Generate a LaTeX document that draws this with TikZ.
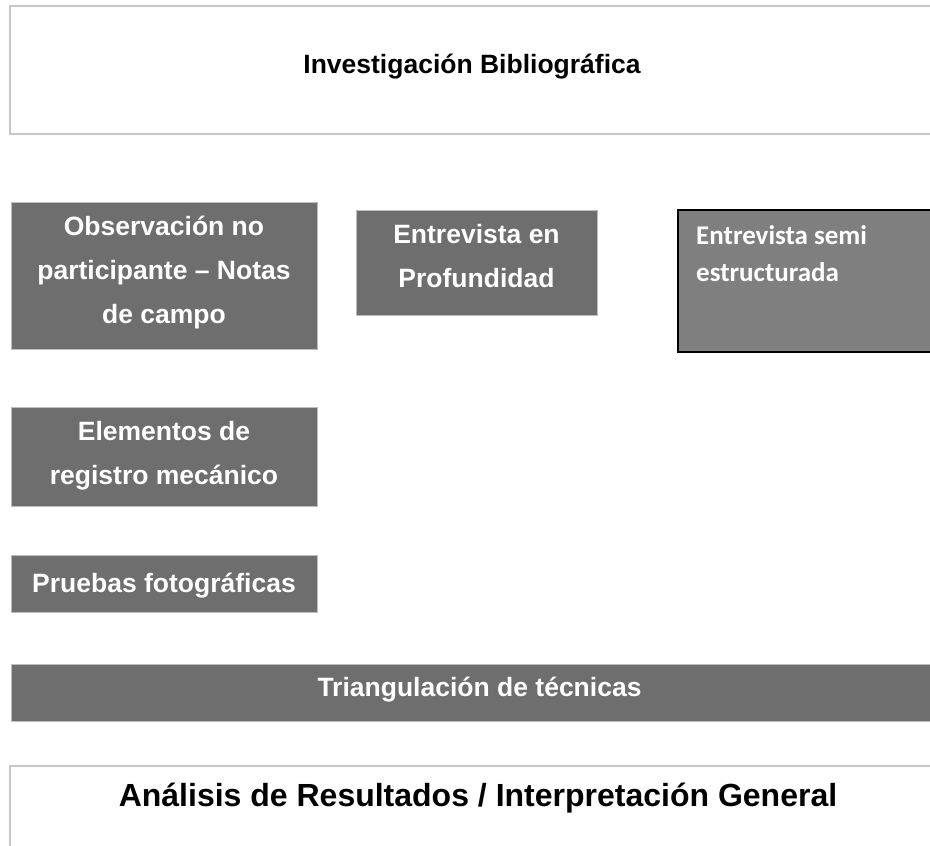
\documentclass[tikz,border=0pt]{standalone}
\usepackage{fontspec}
\setmainfont{Liberation Sans}
\newfontfamily\carlitofont{Carlito}
\definecolor{boxgray}{HTML}{6E6E6E}
\definecolor{semigray}{HTML}{7F7F7F}
\definecolor{boxedge}{HTML}{BDBDBD}
\definecolor{outline}{HTML}{C8C8C8}
\begin{document}
\begin{tikzpicture}[x=1pt,y=-1pt,
  gbox/.style={fill=boxgray, draw=boxedge, line width=0.8pt, anchor=north west, inner sep=0pt},
  wbox/.style={fill=white, draw=outline, line width=2pt, anchor=north west, inner sep=0pt},
  sbox/.style={fill=semigray, draw=black, line width=1.5pt, anchor=north west, inner sep=0pt},
  gtxt/.style={text=white, font=\bfseries\fontsize{26.5}{44}\selectfont, align=center, inner sep=0pt},
  btxt/.style={text=black, font=\bfseries\fontsize{26.5}{32}\selectfont, inner sep=0pt, anchor=base},
  stxt/.style={text=white, font=\carlitofont\bfseries\fontsize{27}{37}\selectfont, align=left, inner sep=0pt, anchor=north west}]
\useasboundingbox (0,0) rectangle (930,846);
\clip (0,0) rectangle (930,846);
% boxes
\node[wbox, minimum width=940pt, minimum height=128pt] (top) at (9,5) {};
\node[gbox, minimum width=306pt, minimum height=147pt] (obs) at (11,202) {};
\node[gbox, minimum width=241pt, minimum height=105pt] (prof) at (356,210) {};
\node[sbox, minimum width=270pt, minimum height=142pt] (semi) at (677,209) {};
\node[gbox, minimum width=306pt, minimum height=99pt] (elem) at (11,407) {};
\node[gbox, minimum width=306pt, minimum height=57pt] (prue) at (11,555) {};
\node[gbox, minimum width=930pt, minimum height=57pt] (tri) at (11,664) {};
\node[wbox, minimum width=940pt, minimum height=120pt] (ana) at (9,765) {};
% texts
\node[btxt] (top-t) at (472,73) {Investigación Bibliográfica};
\node[gtxt, anchor=north] (obs-t) at (164,215.4) {Observación no\\participante – Notas\\de campo};
\node[gtxt, anchor=north] (prof-t) at (476.5,223.7) {Entrevista en\\Profundidad};
\node[stxt] (semi-t) at (696,225) {Entrevista semi\\estructurada};
\node[gtxt, anchor=north] (elem-t) at (164,420.7) {Elementos de\\registro mecánico};
\node[gtxt, anchor=base] (prue-t) at (164,592) {Pruebas fotográficas};
\node[gtxt, anchor=base] (tri-t) at (479.5,696) {Triangulación de técnicas};
\node[btxt, font=\bfseries\fontsize{32}{38}\selectfont] (ana-t) at (478,806) {Análisis de Resultados / Interpretación General};
\end{tikzpicture}
\end{document}
